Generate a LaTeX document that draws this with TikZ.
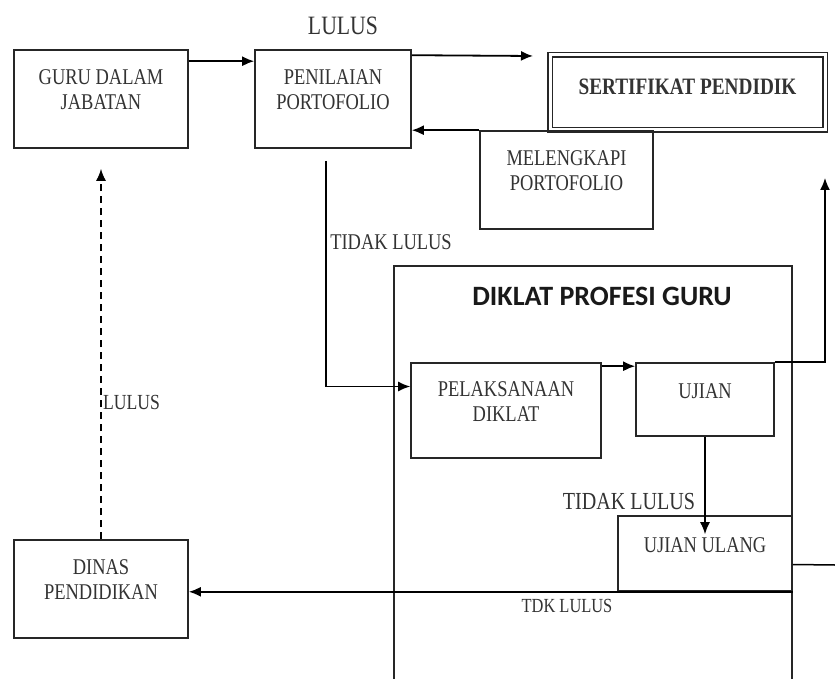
\documentclass[tikz,border=0pt]{standalone}
\usepackage{fontspec}
\setmainfont{Liberation Serif}
\newfontfamily\titlefont{Carlito}
\usepackage{graphicx}
\usetikzlibrary{arrows.meta}
\newcommand{\sq}[1]{\scalebox{0.82}[1]{\begin{tabular}{@{}c@{}}#1\end{tabular}}}
\newcommand{\nar}[1]{\scalebox{0.82}[1]{#1}}

\begin{document}
\begin{tikzpicture}[x=1pt, y=-1pt,
    box/.style={rectangle, draw, line width=1.6pt, draw=black!85, text=black!80, font=\fontsize{22.5}{25}\selectfont, text depth=33pt, inner sep=0pt},
    oneline/.style={text depth=20pt},
    lbl/.style={text=black!80, inner sep=0pt},
    arrow/.style={->, >={Latex[length=12pt,width=10pt]}, line width=1.8pt}
]
    \path[use as bounding box] (0,0) rectangle (835,679);
    \clip (0,0) rectangle (835,679);
    \fill[white] (0,0) rectangle (835,679);

    % Top level
    \node[box, minimum width=174pt, minimum height=98pt] (guru) at (101,99) {\sq{GURU DALAM\\JABATAN}};
    \node[box, minimum width=156pt, minimum height=98pt] (penilaian) at (333,99) {\sq{PENILAIAN\\PORTOFOLIO}};
    \node[box, double, double distance=3pt, line width=1.5pt, font=\bfseries\fontsize{23.5}{26}\selectfont, text depth=13pt, minimum width=275pt, minimum height=75pt] (sertifikat) at (687.5,92.5) {\sq{SERTIFIKAT PENDIDIK}};
    \node[box, minimum width=173pt, minimum height=98pt] (melengkapi) at (566.5,180) {\sq{MELENGKAPI\\PORTOFOLIO}};

    % Diklat frame
    \node[draw, draw=black!85, line width=1.5pt, minimum width=398pt, minimum height=428pt] (diklat) at (593,480) {};
    \node[font=\titlefont\bfseries\fontsize{28}{32}\selectfont, text=black!90, inner sep=0pt] (diklattitle) at (602,296) {DIKLAT PROFESI GURU};
    \node[box, minimum width=190pt, minimum height=95pt] (pelaksanaan) at (506,410.5) {\sq{PELAKSANAAN\\DIKLAT}};
    \node[box, oneline, minimum width=138pt, minimum height=73pt] (ujian) at (705,399.5) {\sq{UJIAN}};
    \node[box, oneline, minimum width=174pt, minimum height=75pt] (ujianulang) at (705,553.5) {\sq{UJIAN ULANG}};

    % Bottom left
    \node[box, minimum width=174pt, minimum height=98pt] (dinas) at (101,589) {\sq{DINAS\\PENDIDIKAN}};

    % Labels
    \node[lbl, font=\fontsize{26.5}{30}\selectfont] (lulustop) at (343,26) {\nar{LULUS}};
    \node[lbl, font=\fontsize{22.5}{26}\selectfont] (tidaklulustop) at (391,242.5) {\nar{TIDAK LULUS}};
    \node[lbl, font=\fontsize{21.5}{25}\selectfont] (lulusmid) at (131.5,402) {\nar{LULUS}};
    \node[lbl, font=\fontsize{24.5}{28}\selectfont] (tidaklulusujian) at (629,502) {\nar{TIDAK LULUS}};
    \node[lbl, font=\fontsize{20}{24}\selectfont] (tdklulus) at (567,606) {\nar{TDK LULUS}};

    % Free ends
    \coordinate (lulusend) at (533,56);
    \coordinate (sertin) at (825,178);
    \coordinate (ulangout) at (835,565);

    % Arrows
    \draw[arrow] ([yshift=-12pt]guru.north east) -- ([yshift=-12pt]penilaian.north west);
    \draw[arrow] ([yshift=-6pt]penilaian.north east) -- (lulusend);
    \draw[arrow] (melengkapi.north west) -- (melengkapi.north west -| penilaian.east);
    \draw[arrow, line width=1.5pt] ([xshift=-7pt,yshift=-12pt]penilaian.south) |- ([yshift=24pt]pelaksanaan.west);
    \draw[arrow] ([yshift=-4pt]pelaksanaan.north east) -- ([yshift=-4pt]pelaksanaan.north east -| ujian.west);
    \draw[arrow, line width=1.5pt] (ujian.north east) -| (sertin);
    \draw[arrow, line width=1.5pt] (ujian.south) -- ([yshift=-19pt]ujianulang.north);
    \draw[arrow] (ujianulang.south east) -- (ujianulang.south east -| dinas.east);
    \draw[line width=1.5pt] ([yshift=-11pt]ujianulang.east) -- (ulangout);
    \draw[arrow, line width=1.6pt, dash pattern=on 7pt off 5pt] (dinas.north) -- ([yshift=-20pt]guru.south);
\end{tikzpicture}
\end{document}
